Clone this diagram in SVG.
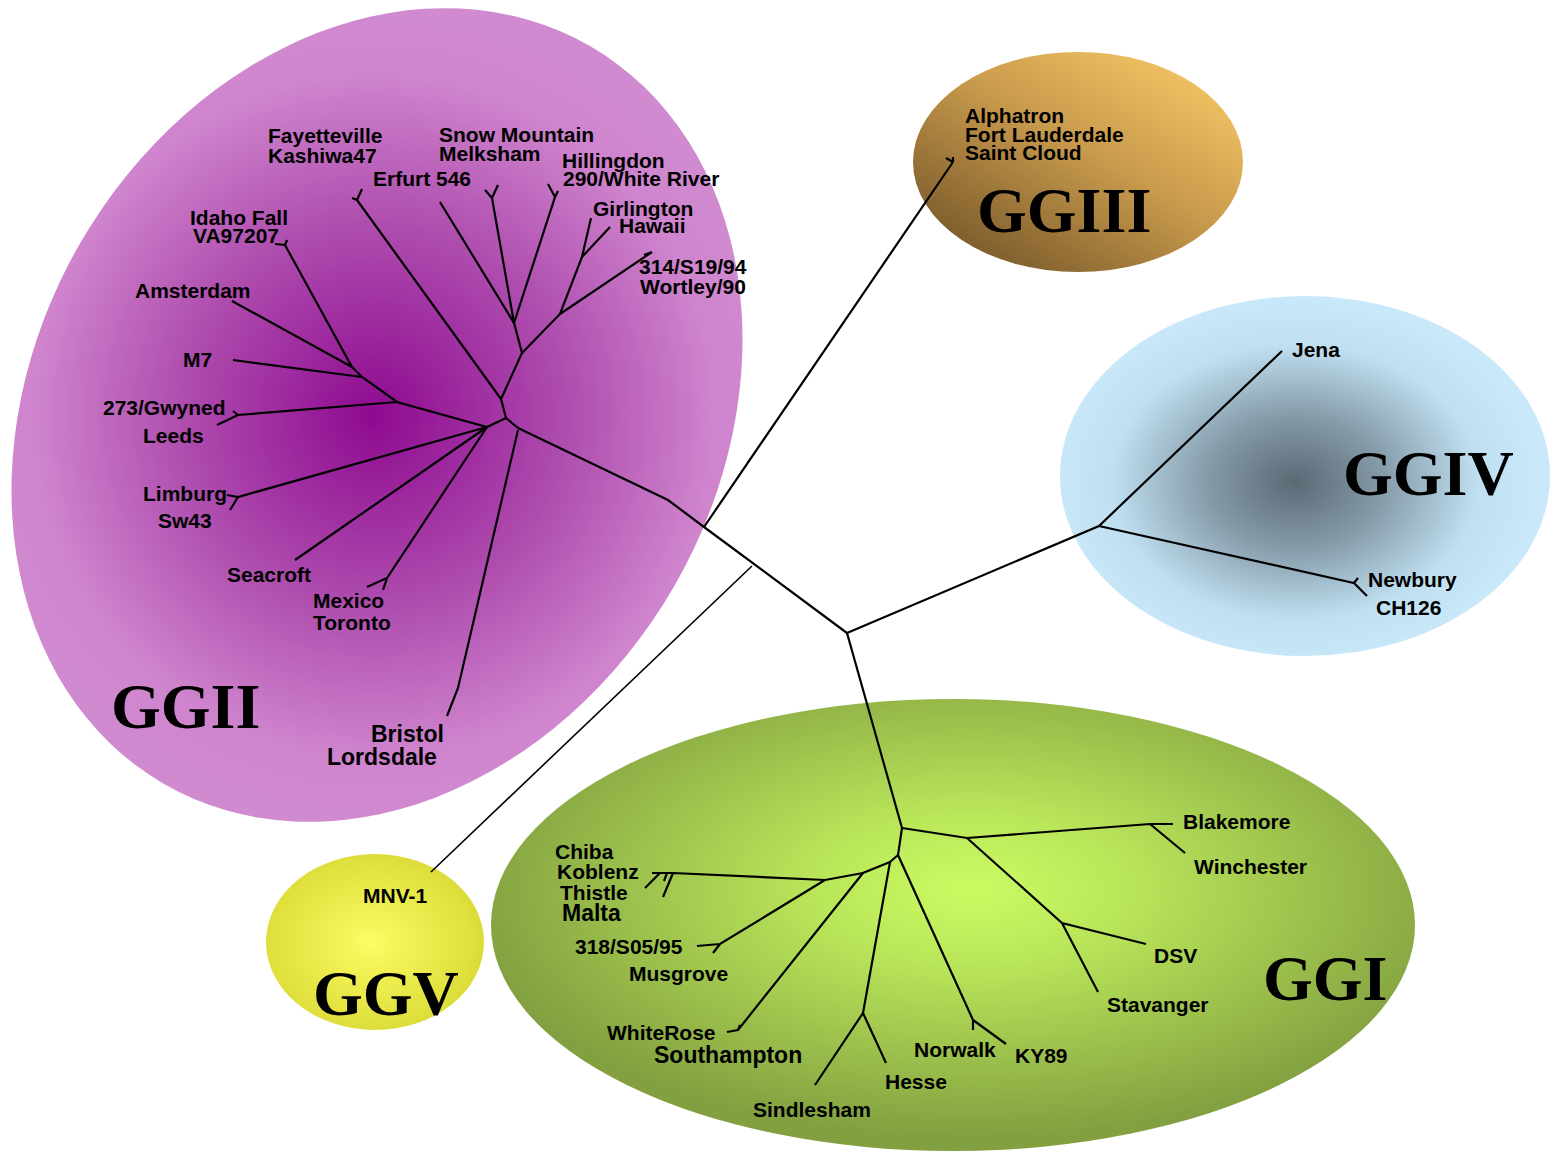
<svg xmlns="http://www.w3.org/2000/svg" width="1551" height="1153" viewBox="0 0 1551 1153">
<defs>
<radialGradient id="gII" gradientUnits="userSpaceOnUse" cx="375" cy="417" r="400">
<stop offset="0" stop-color="#8E0A90"/>
<stop offset="0.5" stop-color="#B050B0"/>
<stop offset="0.85" stop-color="#CF84CD"/>
<stop offset="1" stop-color="#D08AD0"/>
</radialGradient>
<linearGradient id="gIII" x1="0.1" y1="0.95" x2="0.9" y2="0.05">
<stop offset="0" stop-color="#735528"/>
<stop offset="0.55" stop-color="#C89A4C"/>
<stop offset="1" stop-color="#F7C866"/>
</linearGradient>
<radialGradient id="gIV" gradientUnits="userSpaceOnUse" cx="1295" cy="482" r="245" gradientTransform="translate(1295 482) scale(1 0.75) translate(-1295 -482)">
<stop offset="0" stop-color="#5A6A75"/>
<stop offset="0.35" stop-color="#8499A6"/>
<stop offset="0.75" stop-color="#C0E0F2"/>
<stop offset="1" stop-color="#C9E9FB"/>
</radialGradient>
<radialGradient id="gV" cx="0.48" cy="0.5" r="0.55">
<stop offset="0" stop-color="#FCFC64"/>
<stop offset="1" stop-color="#DADA36"/>
</radialGradient>
<radialGradient id="gI" cx="0.52" cy="0.42" r="0.55">
<stop offset="0" stop-color="#CAFC62"/>
<stop offset="0.3" stop-color="#BAE65A"/>
<stop offset="1" stop-color="#82A040"/>
</radialGradient>
<style>
.br{fill:none;stroke:#000;stroke-width:2.2;stroke-linejoin:miter}
.thin{fill:none;stroke:#000;stroke-width:1.6}
.lb{font-family:"Liberation Sans",Arial,sans-serif;font-weight:bold;font-size:21px;fill:#000}
.big{font-size:23px}
.gg{font-family:"Liberation Serif","Times New Roman",serif;font-weight:bold;font-size:64px;fill:#000}
</style>
</defs>

<g id="clade-GGII">
<ellipse cx="377" cy="415" rx="343" ry="426" transform="rotate(30 377 415)" fill="url(#gII)"/>
<text class="gg" x="111" y="728">GGII</text>
</g>
<g id="clade-GGIII">
<ellipse cx="1078" cy="162" rx="165" ry="110" fill="url(#gIII)"/>
<text class="gg" x="977" y="232">GGIII</text>
</g>
<g id="clade-GGIV">
<ellipse cx="1305" cy="476" rx="245" ry="180" fill="url(#gIV)"/>
<text class="gg" x="1343" y="495">GGIV</text>
</g>
<g id="clade-GGV">
<ellipse cx="375" cy="942" rx="109" ry="88" fill="url(#gV)"/>
<text class="gg" x="313" y="1015">GGV</text>
</g>
<g id="clade-GGI">
<ellipse cx="953" cy="925" rx="462" ry="226" fill="url(#gI)"/>
<text class="gg" x="1263" y="1000">GGI</text>
</g>

<g id="connectors">
<!-- backbone -->
<path class="br" d="M847,633 L704,527 L668,500 L518,428"/>
<path class="br" d="M704,527 L953,162 M953,162 L946,158 M953,162 L953,157"/>
<path class="thin" d="M752,566 L431,872"/>
<path class="br" d="M847,633 L1099,526 L1282,351 M1099,526 L1354,583 L1358,578 M1354,583 L1367,596"/>
<path class="br" d="M847,633 L902,828"/>
<!-- GGII -->
<path class="br" d="M518,428 L506,418 L501,399 L522,353 L514,323 L440,202"/>
<path class="br" d="M514,323 L492,198 L485,190 M492,198 L498,185"/>
<path class="br" d="M514,323 L555,197 L548,184 M555,197 L558,191"/>
<path class="br" d="M522,353 L560,314 L582,257 L591,218 M582,257 L610,227 M560,314 L652,252 M652,252 L644,255"/>
<path class="br" d="M501,399 L357,200 L352,198 M357,200 L362,189"/>
<path class="br" d="M506,418 L487,427 L397,402 L362,377 L352,367 L285,245 L275,244 M285,245 L287,240"/>
<path class="br" d="M352,367 L232,301 M362,377 L233,360"/>
<path class="br" d="M397,402 L238,415 L217,425 M238,415 L233,411"/>
<path class="br" d="M487,427 L238,497 L227,495 M238,497 L230,510"/>
<path class="br" d="M487,427 L295,560"/>
<path class="br" d="M487,427 L387,578 L367,587 M387,578 L383,590"/>
<path class="br" d="M518,430 L458,688 L447,716"/>
<!-- GGI -->
<path class="br" d="M902,828 L967,838 L1150,824 L1173,824 M1150,824 L1185,853"/>
<path class="br" d="M967,838 L1062,923 L1146,944 M1062,923 L1098,992"/>
<path class="br" d="M902,828 L898,855 L973,1020 L973,1030 M973,1020 L1006,1044"/>
<path class="br" d="M898,855 L890,862 L863,1013 L886,1063 M863,1013 L815,1085"/>
<path class="br" d="M890,862 L863,873 L738,1030 L727,1032 M738,1030 L740,1025"/>
<path class="br" d="M863,873 L825,880 L673,873 L652,873 M673,873 L663,897 M660,873 L645,888 M667,873 L664,881"/>
<path class="br" d="M825,880 L720,944 L697,946 M720,944 L713,953"/>
</g>

<g id="leaf-Fayetteville"><text class="lb" x="268" y="143">Fayetteville</text><text class="lb" x="268" y="163">Kashiwa47</text></g>
<g id="leaf-Erfurt"><text class="lb" x="373" y="186">Erfurt 546</text></g>
<g id="leaf-SnowMountain"><text class="lb" x="439" y="142">Snow Mountain</text><text class="lb" x="439" y="161">Melksham</text></g>
<g id="leaf-Hillingdon"><text class="lb" x="562" y="168">Hillingdon</text><text class="lb" x="563" y="186">290/White River</text></g>
<g id="leaf-Girlington"><text class="lb" x="593" y="216">Girlington</text></g>
<g id="leaf-Hawaii"><text class="lb" x="619" y="233">Hawaii</text></g>
<g id="leaf-314"><text class="lb" x="639" y="274">314/S19/94</text><text class="lb" x="640" y="294">Wortley/90</text></g>
<g id="leaf-Idaho"><text class="lb" x="190" y="225">Idaho Fall</text><text class="lb" x="193" y="243">VA97207</text></g>
<g id="leaf-Amsterdam"><text class="lb" x="135" y="298">Amsterdam</text></g>
<g id="leaf-M7"><text class="lb" x="183" y="367">M7</text></g>
<g id="leaf-Gwyned"><text class="lb" x="103" y="415">273/Gwyned</text><text class="lb" x="143" y="443">Leeds</text></g>
<g id="leaf-Limburg"><text class="lb" x="143" y="501">Limburg</text><text class="lb" x="158" y="528">Sw43</text></g>
<g id="leaf-Seacroft"><text class="lb" x="227" y="582">Seacroft</text></g>
<g id="leaf-Mexico"><text class="lb" x="313" y="608">Mexico</text><text class="lb" x="313" y="630">Toronto</text></g>
<g id="leaf-Bristol"><text class="lb big" x="371" y="742">Bristol</text><text class="lb big" x="327" y="765">Lordsdale</text></g>
<g id="leaf-Alphatron"><text class="lb" x="965" y="123">Alphatron</text><text class="lb" x="965" y="142">Fort Lauderdale</text><text class="lb" x="965" y="160">Saint Cloud</text></g>
<g id="leaf-Jena"><text class="lb" x="1292" y="357">Jena</text></g>
<g id="leaf-Newbury"><text class="lb" x="1368" y="587">Newbury</text><text class="lb" x="1376" y="615">CH126</text></g>
<g id="leaf-MNV1"><text class="lb" x="363" y="903">MNV-1</text></g>
<g id="leaf-Chiba"><text class="lb" x="555" y="859">Chiba</text><text class="lb" x="557" y="879">Koblenz</text><text class="lb" x="560" y="900">Thistle</text><text class="lb big" x="562" y="921">Malta</text></g>
<g id="leaf-318"><text class="lb" x="575" y="954">318/S05/95</text><text class="lb" x="629" y="981">Musgrove</text></g>
<g id="leaf-WhiteRose"><text class="lb" x="607" y="1040">WhiteRose</text><text class="lb big" x="654" y="1063">Southampton</text></g>
<g id="leaf-Sindlesham"><text class="lb" x="753" y="1117">Sindlesham</text></g>
<g id="leaf-Hesse"><text class="lb" x="885" y="1089">Hesse</text></g>
<g id="leaf-Norwalk"><text class="lb" x="914" y="1057">Norwalk</text><text class="lb" x="1015" y="1063">KY89</text></g>
<g id="leaf-Stavanger"><text class="lb" x="1107" y="1012">Stavanger</text></g>
<g id="leaf-DSV"><text class="lb" x="1154" y="963">DSV</text></g>
<g id="leaf-Blakemore"><text class="lb" x="1183" y="829">Blakemore</text><text class="lb" x="1194" y="874">Winchester</text></g>
</svg>
